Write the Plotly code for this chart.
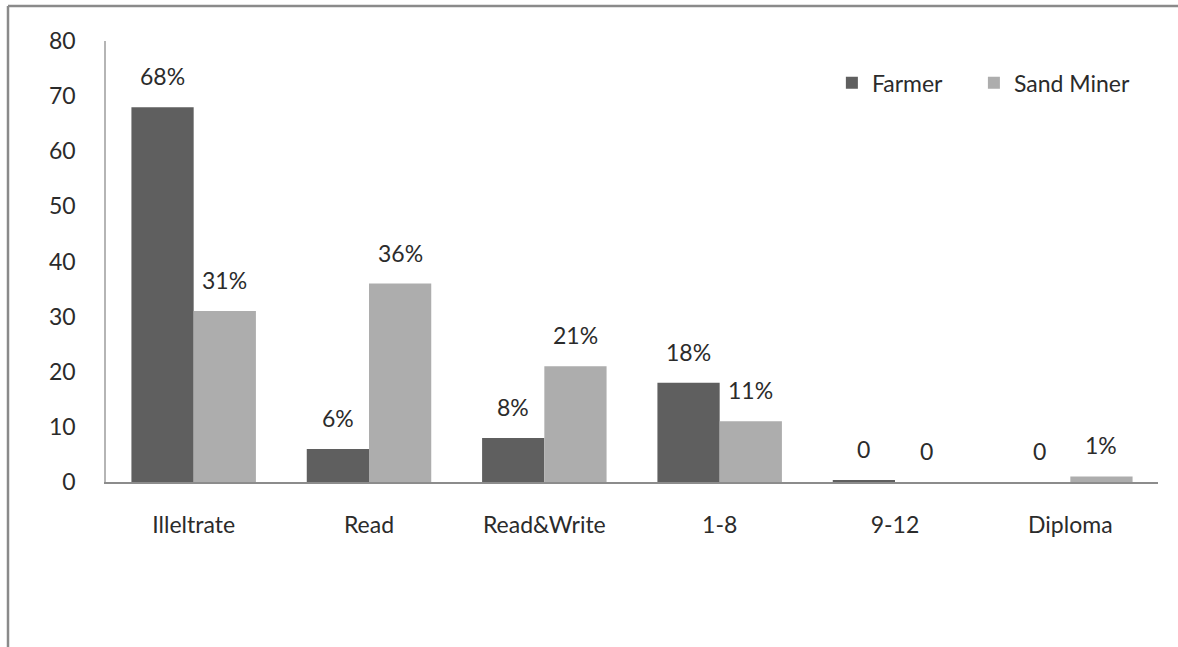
import plotly.graph_objects as go

categories = ["Illeltrate", "Read", "Read&Write", "1-8", "9-12", "Diploma"]
farmer = [68, 6, 8, 18, 0.3, 0]
sand_miner = [31, 36, 21, 11, 0, 1]
y_ticks = [0, 10, 20, 30, 40, 50, 60, 70, 80]


def label(v):
    r = round(v)
    return "0" if r == 0 else f"{r}%"


W, H = 1178, 647
ML, MR, MT, MB = 106, 20, 41, 165
FONT = "Lato"
FS = 23
TEXT = "#2b2b2b"

fig = go.Figure()
fig.add_trace(go.Bar(name="Farmer", x=categories, y=farmer, legend="legend",
                     showlegend=True, marker=dict(color="#5f5f5f", line_width=0)))
fig.add_trace(go.Bar(name="Sand Miner", x=categories, y=sand_miner, legend="legend2",
                     showlegend=True, marker=dict(color="#adadad", line_width=0)))

# value labels above each bar
pw = W - ML - MR
half_bar = pw / len(categories) * (1 - 0.29) / 4
for vals, sh in ((farmer, -half_bar), (sand_miner, half_bar)):
    for c, v in zip(categories, vals):
        fig.add_annotation(x=c, y=v, text=label(v), showarrow=False,
                           xshift=sh, yshift=31, yanchor="middle",
                           font=dict(family=FONT, size=FS, color=TEXT))

# frame lines along the top and left edges
ph = H - MT - MB
top_y = 1 + (MT - 6) / ph
left_x = -(ML - 8) / pw
fig.add_shape(type="line", xref="paper", yref="paper", x0=left_x, x1=1 + MR / pw,
              y0=top_y, y1=top_y, line=dict(color="#8a8a8a", width=2.5))
fig.add_shape(type="line", xref="paper", yref="paper", x0=left_x, x1=left_x,
              y0=top_y, y1=-MB / ph, line=dict(color="#8a8a8a", width=2.5))

legend_style = dict(orientation="h", xanchor="left", y=0.905, yanchor="middle",
                    font=dict(family=FONT, size=FS, color=TEXT),
                    itemwidth=30, bgcolor="rgba(0,0,0,0)")

fig.update_layout(
    width=W, height=H,
    margin=dict(l=ML, r=MR, t=MT, b=MB),
    paper_bgcolor="white", plot_bgcolor="white",
    showlegend=True,
    barmode="group", bargap=0.29, bargroupgap=0,
    font=dict(family=FONT, size=FS, color=TEXT),
    legend=dict(x=0.69, **legend_style),
    legend2=dict(x=0.825, **legend_style),
    xaxis=dict(showline=True, linecolor="#8c8c8c", linewidth=1.5, ticks="",
               showgrid=False, ticklabelstandoff=22),
    yaxis=dict(range=[0, 80], tickvals=y_ticks, showline=True, linecolor="#b5b5b5",
               linewidth=1.5, showgrid=False, zeroline=False, ticks="",
               ticklabelstandoff=24),
)

fig.write_html("out.html")
